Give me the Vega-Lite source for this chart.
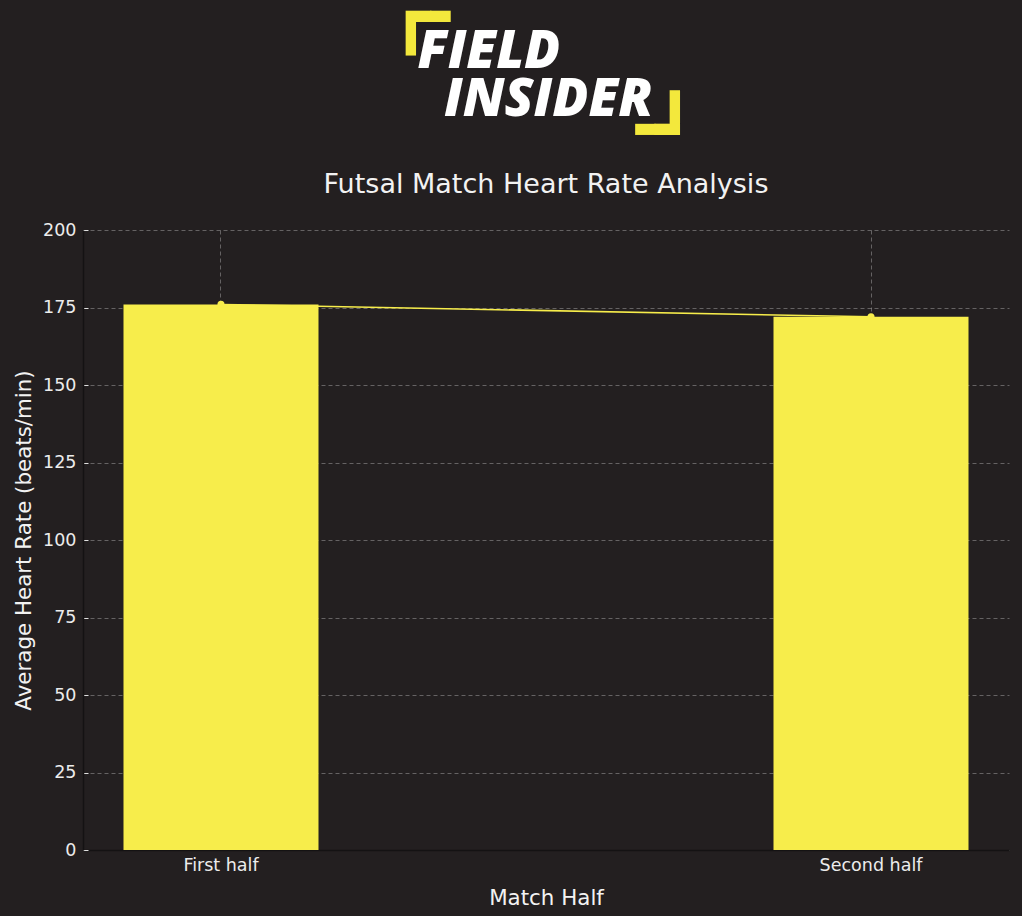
{
  "$schema": "https://vega.github.io/schema/vega-lite/v6.json",
  "background": "#231f20",
  "padding": {"left": 13, "top": -14, "right": 13, "bottom": 10},
  "title": {
    "text": ["\u200b\u2002FIELD", "\u200b\u2002\u2002INSIDER"],
    "subtitle": ["\u250f\u2578", "\u200b\u2003\u2003\u2003\u2009\u2009\u257a\u251b"],
    "anchor": "start",
    "frame": "group",
    "align": "left",
    "dx": 308,
    "font": "Open Sans",
    "fontSize": 53,
    "fontWeight": 800,
    "fontStyle": "italic",
    "lineHeight": 48,
    "color": "#ffffff",
    "subtitleFont": "DejaVu Sans",
    "subtitleFontSize": 66,
    "subtitleColor": "#f3e83c",
    "subtitleLineHeight": 113,
    "subtitlePadding": -140,
    "offset": -34
  },
  "data": {
    "values": [
      {"half": "First half", "hr": 176},
      {"half": "Second half", "hr": 172}
    ]
  },
  "vconcat": [
    {
      "title": {
        "text": "Futsal Match Heart Rate Analysis",
        "anchor": "middle",
        "frame": "group",
        "font": "DejaVu Sans",
        "fontSize": 27,
        "fontWeight": "normal",
        "color": "#f2f2f2",
        "offset": 22
      },
      "width": 926,
      "height": 620,
      "encoding": {
        "x": {
          "field": "half",
          "type": "nominal",
          "title": "Match Half",
          "scale": {"paddingInner": 0.7, "paddingOuter": 0.0623},
          "axis": {"labelAngle": 0, "bandPosition": 0.5}
        },
        "y": {
          "field": "hr",
          "type": "quantitative",
          "title": "Average Heart Rate (beats/min)",
          "scale": {"domain": [0, 200], "nice": false},
          "axis": {"values": [0, 25, 50, 75, 100, 125, 150, 175, 200]}
        }
      },
      "layer": [
        {"mark": {"type": "bar", "color": "#f7ed4b"}},
        {"mark": {"type": "line", "color": "#f7ed4b", "strokeWidth": 1.5}},
        {"mark": {"type": "point", "filled": true, "color": "#f7ed4b", "size": 50, "opacity": 1}}
      ]
    }
  ],
  "config": {
    "view": {"stroke": null},
    "axis": {
      "zindex": 1,
      "grid": true,
      "gridColor": "#ffffff",
      "gridOpacity": 0.3,
      "gridDash": [4, 3],
      "gridWidth": 1,
      "domainColor": "#141213",
      "domainWidth": 1.5,
      "tickColor": "#e0e0e0",
      "tickSize": -5,
      "tickWidth": 1,
      "labelFont": "DejaVu Sans",
      "labelFontSize": 17.5,
      "labelColor": "#ececec",
      "titleFont": "DejaVu Sans",
      "titleFontSize": 21.4,
      "titleFontWeight": "normal",
      "titleColor": "#f2f2f2"
    },
    "axisY": {"titlePadding": 8, "labelPadding": 12},
    "axisX": {"titlePadding": 13.5, "labelPadding": 11.5}
  }
}
